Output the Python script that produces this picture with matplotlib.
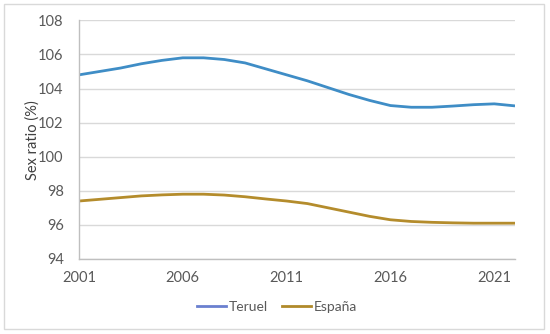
import matplotlib
matplotlib.use("Agg")
import matplotlib.pyplot as plt
from matplotlib.lines import Line2D
from matplotlib.patches import Rectangle

years = list(range(2001, 2023))
teruel = [104.8, 105.0, 105.2, 105.45, 105.65, 105.8, 105.8, 105.7, 105.5, 105.15,
          104.8, 104.45, 104.05, 103.65, 103.3, 103.0, 102.9, 102.9, 102.97, 103.05,
          103.1, 102.98]
espana = [97.4, 97.5, 97.6, 97.7, 97.76, 97.8, 97.8, 97.75, 97.65, 97.52,
          97.4, 97.25, 97.0, 96.75, 96.5, 96.3, 96.2, 96.15, 96.12, 96.1,
          96.1, 96.1]
xtick_years = [2001, 2006, 2011, 2016, 2021]
yticks = [94, 96, 98, 100, 102, 104, 106, 108]

plt.rcParams['font.family'] = ['Lato', 'DejaVu Sans']

fig = plt.figure(figsize=(5.5, 3.34), dpi=100)
ax = fig.add_axes([0.1436, 0.2246, 0.7928, 0.7146])

c_ter = '#3F8DC6'
c_esp = '#B48C2C'
ax.plot(years, teruel, color=c_ter, lw=2.0, solid_capstyle='butt')
ax.plot(years, espana, color=c_esp, lw=2.0, solid_capstyle='butt')

ax.set_xlim(2001, 2022)
ax.set_ylim(94, 108)
ax.set_xticks(xtick_years)
ax.set_yticks(yticks)
ax.tick_params(length=0, labelsize=10.5, colors='#595959')
ax.tick_params(axis='x', pad=9)
ax.tick_params(axis='y', pad=11)
ax.grid(axis='y', color='#D9D9D9', lw=1)
ax.set_axisbelow(True)
for s in ['top', 'right']:
    ax.spines[s].set_visible(False)
for s in ['left', 'bottom']:
    ax.spines[s].set_color('#BFBFBF')
    ax.spines[s].set_linewidth(1)
ax.set_ylabel('Sex ratio (%)', fontsize=10.5, color='#404040', labelpad=-1)

handles = [Line2D([], [], color='#6A80CF', lw=2), Line2D([], [], color='#B08A2A', lw=2)]
fig.legend(handles, ['Teruel', 'España'], loc='center', bbox_to_anchor=(0.503, 0.081),
           ncol=2, frameon=False, fontsize=10, handlelength=2.1, handletextpad=0.2,
           columnspacing=1.0, labelcolor='#595959')

fig.patches.append(Rectangle((4/550, 1-329/334), 540/550, 325/334, transform=fig.transFigure,
                             fill=False, edgecolor='#D9D9D9', lw=1))

fig.savefig('out.png', dpi=100)
